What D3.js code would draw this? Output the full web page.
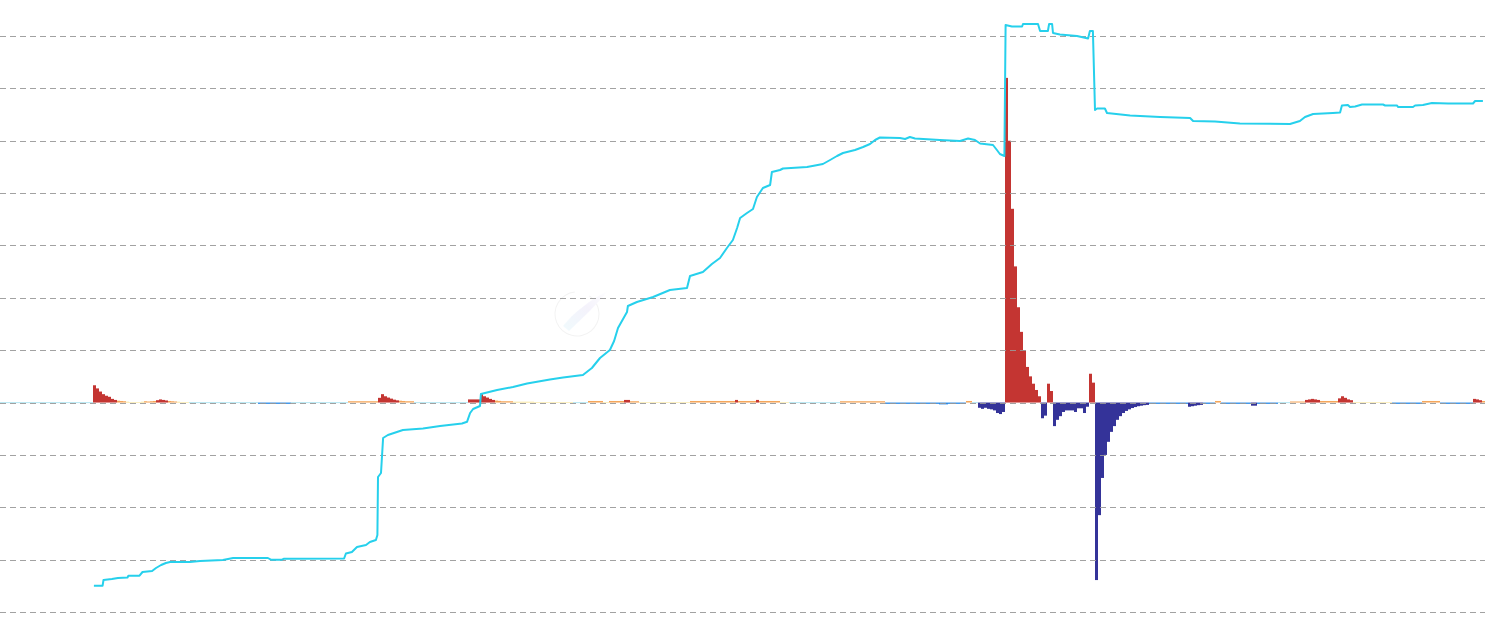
<!DOCTYPE html>
<html><head><meta charset="utf-8">
<script src="https://cdn.jsdelivr.net/npm/d3@7"></script>
<style>body{margin:0;background:#fff;overflow:hidden}svg{display:block}</style>
</head><body>
<svg id="c" width="1490" height="633"></svg>
<script>
// ---- data ----
// change bars, one per period index
const barVal = [
-1,-1,-1,-1,-1,-1,-1,-1,-1,-1,
-1,-1,-1,-1,-1,-1,-1,-1,-1,-1,
-1,-1,-1,-1,-1,-1,-1,-1,-1,-1,
-1,33,27,21,16,13,11,7,5,3.5,
3,2.5,1.5,1,1,1,1,1.5,2.5,2,
2.5,3,4.5,6,5,4,3,2.5,2,1.5,
1,1,1,-1,-1,-1,-1,-1,-1,-1,
-1,-1,-1,-1,-1,-1,-1,-1,-1,-1,
-1,-1,-1,-1,-1,-1,-2.5,-2.5,-2.5,-2.5,
-2.5,-2.5,-2.5,-2.5,-2.5,-2.5,-2.5,-1,-1,-1,
-1,-1,-1,-1,-1,-1,-1,-1,-1,-1,
-1,-1,-1,-1,-1,-1,2.5,2.5,2.5,2.5,
2.5,2.5,2.5,2.5,2.5,2.5,9,16,12,9.5,
7.5,5.5,4.2,3.5,3,2.5,2.5,2.5,-1,-1,
-1,-1,-1,-1,-1,-1,-1,-1,-1,-1,
-1,-1,-1,-1,-1,-1,6,6,6,6,
16,12,9.5,7,5,3.8,3.2,2.5,2.5,2.5,
2.5,1.5,1.5,1.5,1.5,1.5,1.5,1.5,1,1,
1,1,1,1,1,1,1,1,1,1,
1,-1,-1,-1,-1,-1,3,3,3,3,
3,1,1,3,3,3,3,3,5,5,
2.5,2.5,2.5,1,1,1,1,1,1,1,
1,1,1,1,1,1,1,1,1,1,
3,3,3,3,3,3,3,3,3,3,
3,3,3,3,3,5,3,3,3,3,
3,3,5,3,3,3,3,3,3,3,
1,1,1,-1,-1,-1,-1,-1,-1,-1,
-1,-1,-1,-1,-1,-1,-1,-1,-1,-1,
2.5,2.5,2.5,2.5,2.5,2.5,2.5,2.5,2.5,2.5,
2.5,2.5,2.5,2.5,2.5,-2.5,-2.5,-2.5,-2.5,-2.5,
-2.5,-2.5,-2.5,-2.5,-2.5,-2.5,-2.5,-2.5,-2.5,-2.5,
-2.5,-2.5,-2.5,-3.5,-3.5,-3.5,-2.5,-2.5,-2.5,-2.5,
-2.5,-2.5,3,3,-1,-1,-10,-12,-10,-12,
-13,-15,-20,-22,-18,620,500,370,260,182,
135,100,68,50,36,24,12,-30,-25,36,
22,-45,-33,-26,-18,-15,-15,-15,-18,-11,
-11,-20,-8,55,38,-339,-215,-144,-100,-75,
-56,-45,-33,-26,-20,-16,-13,-10.5,-8.6,-7,
-6,-5,-4.5,-2.5,-2.5,-2.5,-2.5,-2.5,-2.5,-2.5,
-2.5,-2.5,-2.5,-2.5,-2.5,-2.5,-8,-7,-6,-5,
-4.5,-2.5,-2.5,-2.5,-2.5,3,3,-2.5,-2.5,-2.5,
-2.5,-2.5,-2.5,-2.5,-2.5,-2.5,-2.5,-6,-6,-2.5,
-2.5,-2.5,-2.5,-2.5,-2.5,-2.5,-1,-1,-1,-1,
2,2,2,2,2,5,6,7,6,5,
3,3,3,3,3,3,8,12,9,6,
4.5,1,1,1,1,1,1,1,1,1,
1,1,1,1,-2.5,-2.5,-2.5,-2.5,-2.5,-2.5,
-2.5,-2.5,-2.5,-2.5,3,3,3,3,3,3,
-2.5,-2.5,-2.5,-2.5,-2.5,-2.5,-2.5,-2.5,-2.5,-2.5,
-2.5,7,6,4.5,3
];
// cumulative line: period index and level
const lineIdx = [31.3,34.2,34.5,37.3,39.3,42.5,42.8,46.5,47.5,50.7,52,53.7,55.3,56.7,63.3,66.7,74.3,77.7,89.3,90.3,94,94.7,114.7,115.3,117.3,119,122,123.3,125.3,125.8,126,127,127.7,129.3,134.3,141,146.7,154,155.7,156.7,157.7,160,160.3,165.7,171,175.7,183.3,187.7,194.3,197.3,200,203.3,204.7,206,209,209.3,212.3,217.7,223.3,229,230,234.3,237.3,240,242.3,244.3,245.7,246.7,249,251,252.3,254.3,256.7,257.3,260,261,269,271.7,274.3,276.7,279,281,285,287.7,290,291.7,293.3,300,301.7,303.3,305,313.3,320,322.7,325,326.7,331,332.3,333.3,334.8,335.2,337.3,340.7,341,346,346.7,349.3,349.7,350.7,351,353.3,359,362.7,363.3,364.3,365,365.7,368.3,369,376.7,386.7,396.7,397.7,405,413.3,430,433.3,435,437.7,444.3,446.7,447.3,449.3,450,451.7,454,461,461.7,465.7,466,471,471.7,474.3,477.3,482.7,491,491.7,494.3];
const lineVal = [26.3,26.3,32,33,34,34.5,36.3,36.3,40,41,44,47,49,50,50,51,52,54,54,52.3,52.3,53.3,53.5,58.5,60,65,67,70,72,77,135,139,174,177,182,183.5,186,188.5,190.3,199,203,206,218,222,225,228.5,232.5,234.5,237,244,254,262,271,284,300,306,310,315,322,324,336,340,348,354,364,372,384,394,399,403,415,424,427,440,442,443.5,445,446.5,448,452,456,459,462,465,468,472,474.5,474,473,475,473.5,472,471,473.5,472,468.5,467,462,458,456,587,585.5,585.5,588,588,581,581,588,588,579,577.5,576,573.5,581,581,502,503.5,503.5,499,496.5,495,494,491,490.5,488.5,488,491,495,498,499,499.5,506.5,507,505,505.5,507.5,507.5,506.5,506.5,505,505,506.5,507,509,508.5,508.5,511,511];
const barTicks = [-400,-300,-200,-100,0,100,200,300,400,500,600,700];
const colorStops = [-4,-2,0,2,4];
const colorList = ["#343399","#2b8ae6","#6ccfe6","#f8e187","#f5a65b","#c43532"];

// ---- chart ----
const svg = d3.select("#c");
const N = barVal.length;
const x = d3.scaleLinear().domain([0, N]).range([0, 1485]);
const yb = d3.scaleLinear().domain([-400, 700]).range([612, 36]);
const yl = d3.scaleLinear().domain([0, 576]).range([612, 36]);
const col = d3.scaleThreshold().domain(colorStops).range(colorList);

// faint watermark
const wm = svg.append("g").attr("opacity", 0.5);
const grad = svg.append("defs").append("linearGradient").attr("id","wg")
  .attr("x1","0").attr("y1","1").attr("x2","1").attr("y2","0");
grad.append("stop").attr("offset","0").attr("stop-color","#e3f7fc");
grad.append("stop").attr("offset","0.55").attr("stop-color","#ebe7f9");
grad.append("stop").attr("offset","1").attr("stop-color","#ffffff");
wm.append("path").attr("d", d3.arc()({innerRadius:21.5, outerRadius:22.5, startAngle:0.6, endAngle:2*Math.PI-0.1}))
  .attr("transform","translate(577,314)").attr("fill","#e6e6e6");
wm.append("path").attr("d","M563,326 C573,313 590,300 609,290 C597,304 583,318 569,331 Z").attr("fill","url(#wg)");

// bars
svg.append("g").selectAll("rect").data(barVal).join("rect")
  .attr("x", (d, i) => x(i))
  .attr("width", (d, i) => x(i + 1) - x(i))
  .attr("y", d => Math.min(yb(d), yb(0)))
  .attr("height", d => Math.abs(yb(d) - yb(0)))
  .attr("fill", d => col(d));

// grid lines
svg.append("g").selectAll("line").data(barTicks).join("line")
  .attr("x1", 0).attr("x2", 1485)
  .attr("y1", d => Math.round(yb(d)) + 0.5).attr("y2", d => Math.round(yb(d)) + 0.5)
  .attr("stroke", "#999").attr("stroke-width", 1).attr("stroke-dasharray", "6,4")
  .attr("opacity", 0.9);

// line
const pts = lineIdx.map((d, i) => [d, lineVal[i]]);
svg.append("path").datum(pts)
  .attr("fill", "none").attr("stroke", "#26d0ec").attr("stroke-width", 2)
  .attr("stroke-linejoin", "round")
  .attr("d", d3.line().x(d => x(d[0])).y(d => yl(d[1])));
</script>
</body></html>
